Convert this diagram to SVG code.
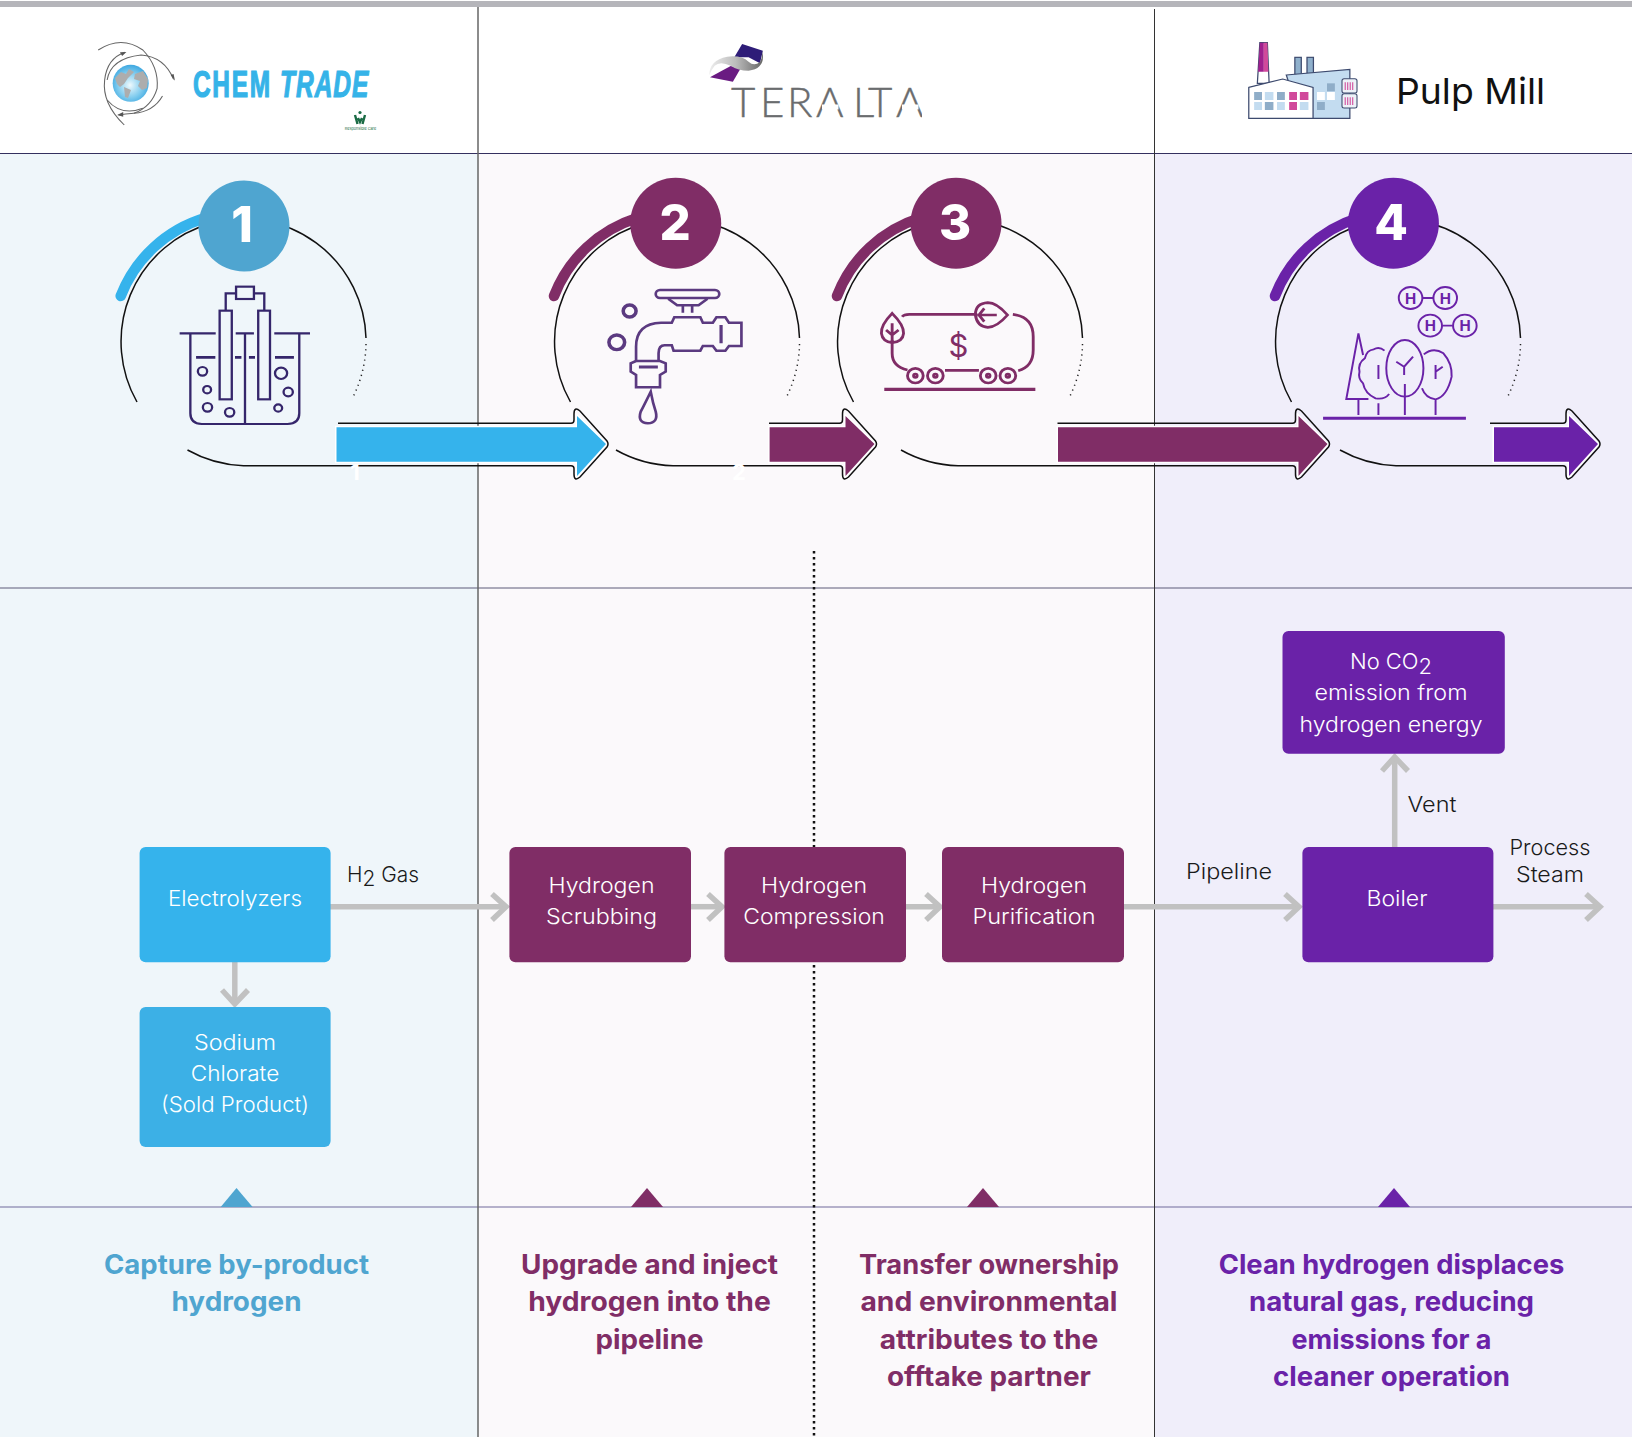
<svg xmlns="http://www.w3.org/2000/svg" width="1632" height="1437" viewBox="0 0 1632 1437">
<style>
text{font-family:Inter,"Liberation Sans",sans-serif}
.box{font-size:21.5px;fill:#fff;text-anchor:middle;font-weight:300}
.lab{font-size:21.5px;fill:#1a1a1a;font-weight:300}
.mid{text-anchor:middle}
.cap{font-size:26.5px;font-weight:700;text-anchor:middle}
.num{font-size:49px;font-weight:800;fill:#fff;text-anchor:middle}
.ring{fill:none;stroke:#111;stroke-width:1.5}
.dots{fill:none;stroke:#222;stroke-width:1.5;stroke-dasharray:1.2 4}
.thick{fill:none;stroke-width:10.5;stroke-linecap:round}
.out{fill:none;stroke:#111;stroke-width:1.5}
.conn{fill:none;stroke:#c1c1c1;stroke-width:5.5}
.ic{fill:none;stroke-width:6.5}
.brand{font-size:36px;font-weight:700;fill:#35b3e8;stroke:#35b3e8;stroke-width:1.2px;font-family:"Liberation Sans",sans-serif}
</style>
<defs>
<radialGradient id="globe" cx="0.48" cy="0.55" r="0.62"><stop offset="0" stop-color="#eef9fd"/><stop offset="0.55" stop-color="#7fcbee"/><stop offset="1" stop-color="#2a9ddc"/></radialGradient>
<linearGradient id="sw" x1="0" x2="1" y1="0" y2="0"><stop offset="0" stop-color="#eee"/><stop offset="0.5" stop-color="#bbb"/><stop offset="1" stop-color="#666"/></linearGradient>
<clipPath id="tclip"><rect x="728" y="80" width="194" height="38"/></clipPath>
</defs>
<rect width="1632" height="1437" fill="#fff"/>
<g id="bands">
<rect x="0" y="154" width="478" height="1283" fill="#eff6fa"/>
<rect x="478" y="154" width="676.500" height="1283" fill="#fbf9fb"/>
<rect x="1154.500" y="154" width="477.500" height="1283" fill="#f0eefa"/>
<rect x="0" y="1" width="1632" height="6" fill="#b5b5ba"/>
<path d="M0,153.500H1632" stroke="#34305f" stroke-width="1.200"/>
<path d="M0,588H1632" stroke="#5d5a78" stroke-width="1"/>
<path d="M0,1207H1632" stroke="#706a9c" stroke-width="1.200"/>
<path d="M478,7V1437" stroke="#666" stroke-width="1.500"/>
<path d="M1154.500,9V1437" stroke="#333" stroke-width="1"/>
<path d="M814,551V1437" stroke="#111" stroke-width="2.500" stroke-dasharray="2.500 3.500" fill="none"/>
</g>
<g id="chemtrade-logo">
<ellipse cx="130.700" cy="83.300" rx="18" ry="18.500" fill="url(#globe)"/>
<path d="M115,78 L121,72 L126,74 L129,69 L134,72 L128,78 L124,84 L120,87 L117,84 Z M124,87 L131,90 L128,98 L125,97 Z M135,74 L143,71 L148,79 L147,88 L142,90 L138,86 L140,81 L134,79 Z" fill="#adadad"/>
<g transform="scale(0.35714,0.33333)" fill="none" stroke="#666" stroke-width="3">
<path d="M275,150 Q340,105 400,150 Q445,200 440,265 Q425,320 375,340"/>
<path d="M350,157 Q300,175 293,240 Q285,310 348,375"/>
<path d="M300,240 Q310,175 395,165 Q460,170 486,238"/>
<path d="M455,288 Q430,335 375,340 Q350,342 332,345"/>
<path d="M300,300 Q340,350 400,325"/>
<path d="M354,156 L336,157 L342,168 Z M490,242 L478,225 L486,222 Z M328,345 L345,336 L345,350 Z" fill="#555" stroke="none"/>
</g>
<text class="brand" transform="translate(193,96.700) scale(0.68,1)" letter-spacing="2.500">CHEM</text>
<text class="brand" transform="translate(280,96.700) scale(0.68,1)" font-style="italic" letter-spacing="1.500">TRADE</text>
<g fill="none" stroke="#1a6b45"><circle cx="360" cy="112.500" r="1.600" fill="#1a6b45" stroke="none"/><path d="M355,115 L357.500,124 M365,115 L362.500,124 M358,118 L360,122 L362,118" stroke-width="2.400"/></g>
<text x="360.500" y="129.500" font-size="3.800" fill="#1a6b45" text-anchor="middle">Responsible Care</text>
</g>
<g id="teralta-logo">
<g transform="translate(520,0) scale(0.35714,0.33333)">
<path d="M622,132 L680,152 L672,190 L640,172 L600,172 Z" fill="#2e1c78"/>
<path d="M532,232 L596,245 L618,205 L590,198 L560,215 Z" fill="#6a1b82"/>
<path d="M530,226 Q530,180 580,170 Q620,165 640,185 Q655,200 672,186 Q680,170 678,152 Q690,205 640,212 Q610,212 590,197 Q560,182 545,197 Q535,210 530,226 Z" fill="url(#sw)"/>
</g>
<g clip-path="url(#tclip)">
<text id="teralta-word" x="731 760 787 816 853 868 896" y="117" font-size="42" font-weight="300" fill="#6a6c6e" stroke="#6a6c6e" stroke-width="0.400" style="font-family:Lato,sans-serif">TERALTA</text>
</g>
<rect x="822" y="104.500" width="16.500" height="5" fill="#fff"/>
<rect x="902" y="104.500" width="16.500" height="5" fill="#fff"/>
</g>
<g id="mill-logo">
<g transform="translate(1072,0) scale(0.35714,0.33333)" stroke="#3d4a6e" stroke-width="3.500">
<path d="M526,128 H547 L552,250 H519 Z" fill="#fff"/>
<path d="M526,128 H537 V215 H521 Z" fill="#a0208e" stroke="none"/>
<path d="M537,128 H547 L550,215 H537 Z" fill="#d1499b" stroke="none"/>
<rect x="624" y="172" width="18" height="52" fill="#8fb0cc"/>
<rect x="658" y="172" width="18" height="50" fill="#8fb0cc"/>
<path d="M600,225 L778,208 V355 H640 Z" fill="#c3dcf0"/>
<path d="M495,262 L590,237 L675,262 V355 H495 Z" fill="#fff"/>
<g stroke="none">
<rect x="510" y="276" width="22" height="24" fill="#8fadc8"/><rect x="540" y="276" width="24" height="24" fill="#c3dcf0"/><rect x="574" y="276" width="22" height="24" fill="#8fadc8"/><rect x="608" y="276" width="22" height="24" fill="#d1499b"/><rect x="638" y="276" width="24" height="24" fill="#d1499b"/>
<rect x="510" y="306" width="22" height="24" fill="#c3dcf0"/><rect x="540" y="306" width="24" height="24" fill="#8fadc8"/><rect x="574" y="306" width="22" height="24" fill="#c3dcf0"/><rect x="608" y="306" width="22" height="24" fill="#d1499b"/><rect x="638" y="306" width="24" height="24" fill="#c3dcf0"/>
<rect x="714" y="250" width="22" height="24" fill="#8fadc8"/><rect x="686" y="276" width="22" height="24" fill="#fff"/><rect x="714" y="276" width="22" height="24" fill="#fff"/><rect x="686" y="306" width="22" height="24" fill="#8fadc8"/>
</g>
<rect x="756" y="236" width="42" height="43" rx="6" fill="#edf2f8" stroke-width="3"/>
<rect x="756" y="281" width="42" height="43" rx="6" fill="#edf2f8" stroke-width="3"/>
<path d="M765,247V270M772,247V270M779,247V270M786,247V270M765,292V315M772,292V315M779,292V315M786,292V315" stroke="#d1499b" stroke-width="3"/>
</g>
<text x="1396" y="104" font-size="36" font-weight="400" fill="#111" textLength="149" lengthAdjust="spacingAndGlyphs">Pulp Mill</text>
</g>
<g id="step-1">
<path class="thick" stroke="#35b3ec" d="M120.700,296 A131,131 0 0 1 205,218"/>
<path class="ring" d="M137,402 A122.500,122.500 0 1 1 366,338"/>
<path class="dots" d="M366,344 A122.500,122.500 0 0 1 353,397"/>
<circle cx="244" cy="226" r="45.500" fill="#4fa5d0"/>
<text class="num" x="242" y="241.500">1</text>
<g transform="scale(0.35714,0.33333)" stroke="#35266b" class="ic">
<path d="M533,1000 V1240 Q533,1272 565,1272 H805 Q838,1272 838,1240 V1000"/>
<path d="M503,1000 H604 M660,1000 H711 M768,1000 H868 M686,1000 V1272 M632,932 V880 H660 M740,932 V880 H712"/>
<rect x="615" y="932" width="34" height="266"/><rect x="723" y="932" width="33" height="266"/><rect x="661" y="860" width="50" height="37"/>
<path d="M549,1072 H603 M658,1072 H676 M697,1072 H714 M770,1072 H823" stroke-width="8"/>
<circle cx="567" cy="1114" r="13"/><circle cx="580" cy="1169" r="11"/><circle cx="581" cy="1222" r="13"/><circle cx="643" cy="1237" r="13"/><circle cx="779" cy="1224" r="11"/><circle cx="787" cy="1120" r="17"/><circle cx="807" cy="1176" r="13"/>
</g>
</g>
<g id="step-2">
<path class="thick" stroke="#802d66" d="M554,296 A131,131 0 0 1 637,218"/>
<path class="ring" d="M570.500,402 A122.500,122.500 0 1 1 799.500,338"/>
<path class="dots" d="M799.500,344 A122.500,122.500 0 0 1 786.500,397"/>
<circle cx="675.700" cy="223.300" r="45.500" fill="#802d66"/>
<text class="num" x="675" y="239.500">2</text>
<g transform="translate(520,0) scale(0.35714,0.33333)" stroke="#5b3a80" class="ic" style="stroke-width:7.500">
<rect x="380" y="870" width="178" height="24" rx="12"/>
<path d="M415,896 L440,916 H500 L525,896 M456,916 V938 M482,916 V938"/>
<path d="M325,1085 V1040 Q325,970 395,968 H425 L432,952 H505 L512,968 H540 L550,952 H575 L585,968 H620 V1038 H585 L575,1052 H550 L540,1038 H512 L505,1052 H430 L425,1036 H405 Q388,1036 388,1060 V1085"/>
<path d="M325,1083 L310,1090 V1115 L325,1125 V1162 H392 V1125 L408,1115 V1090 L392,1083 Z"/>
<path d="M333,1101 H386 M563,975 V1030" stroke-width="9"/>
<circle cx="307" cy="933" r="18" stroke-width="10"/><circle cx="271" cy="1027" r="22" stroke-width="10"/>
<path d="M366,1175 Q350,1210 338,1235 Q328,1268 358,1270 Q388,1268 380,1235 Q372,1210 366,1175 Z"/>
</g>
</g>
<g id="step-3">
<path class="thick" stroke="#802d66" d="M837,296 A131,131 0 0 1 920,218"/>
<path class="ring" d="M853.500,402 A122.500,122.500 0 1 1 1082.500,338"/>
<path class="dots" d="M1082.500,344 A122.500,122.500 0 0 1 1069.500,397"/>
<circle cx="956" cy="223.300" r="45.500" fill="#802d66"/>
<text class="num" x="955" y="239.500">3</text>
<g transform="translate(520,0) scale(0.35714,0.33333)" stroke="#802d66" class="ic" style="stroke-width:8">
<path d="M1070,950 Q1075,943 1090,943 H1280 M1380,943 Q1437,950 1437,1010 V1050 Q1437,1100 1395,1112 M1190,1111 H1285 M1042,1020 V1060 Q1042,1100 1085,1110"/>
<circle cx="1107" cy="1127" r="22"/><circle cx="1163" cy="1127" r="22"/><circle cx="1311" cy="1127" r="22"/><circle cx="1366" cy="1127" r="22"/>
<circle cx="1107" cy="1127" r="5"/><circle cx="1163" cy="1127" r="5"/><circle cx="1311" cy="1127" r="5"/><circle cx="1366" cy="1127" r="5"/>
<path d="M1020,1168 H1443" stroke-width="10"/>
<path d="M1042,940 Q1010,975 1012,1000 Q1015,1025 1042,1028 Q1072,1025 1074,1000 Q1075,975 1042,940 Z M1042,970 V1028 M1025,990 L1042,1005 L1060,990"/>
<path d="M1365,945 Q1335,908 1310,908 Q1275,910 1275,945 Q1280,980 1310,982 Q1335,982 1365,945 Z M1280,945 H1335 M1300,925 L1285,945 L1300,965"/>
</g>
<text x="958.500" y="357" font-size="31" font-weight="400" fill="#802d66" text-anchor="middle">$</text>
</g>
<g id="step-4">
<path class="thick" stroke="#6a22a8" d="M1275,296 A131,131 0 0 1 1358,218"/>
<path class="ring" d="M1291.500,402 A122.500,122.500 0 1 1 1520.500,338"/>
<path class="dots" d="M1520.500,344 A122.500,122.500 0 0 1 1507.500,397"/>
<circle cx="1393.400" cy="223.300" r="45.500" fill="#6a22a8"/>
<text class="num" x="1391" y="239.500">4</text>
<g transform="translate(1072,0) scale(0.35714,0.33333)" stroke="#6a22a8" class="ic" style="stroke-width:5.500">
<circle cx="948" cy="894" r="33"/><circle cx="1045" cy="894" r="33"/><circle cx="1003" cy="977" r="33"/><circle cx="1100" cy="977" r="33"/>
<path d="M982,894 H1011 M1037,977 H1066"/>
<path d="M802,1000 L768,1197 H830 M802,1000 L815,1065 M802,1197 V1245"/>
<path d="M875,1052 Q860,1038 845,1048 Q825,1050 820,1075 Q800,1090 805,1115 Q800,1135 815,1150 Q820,1180 850,1195 Q875,1200 888,1182 M858,1095 V1137 M858,1210 V1245"/>
<ellipse cx="932" cy="1105" rx="52" ry="85"/>
<path d="M932,1152 V1245 M955,1070 L930,1100 L908,1085 M930,1100 V1125"/>
<path d="M985,1063 Q1012,1040 1040,1060 Q1065,1090 1063,1130 Q1050,1190 1018,1198 Q990,1195 980,1165 M1018,1198 V1245 M1018,1095 V1137 M1018,1115 L1038,1100"/>
<path d="M703,1255 H1103" stroke-width="9"/>
</g>
<g font-size="15" font-weight="700" fill="#6a22a8" text-anchor="middle"><text x="1410.600" y="303.500">H</text><text x="1445.300" y="303.500">H</text><text x="1430.300" y="331">H</text><text x="1465" y="331">H</text></g>
</g>
<g id="flow-arrows">
<path fill="#35b3ec" stroke="#fff" stroke-width="3" paint-order="stroke" d="M336.500,427.300H577V416L606,444L577,476V461.700H336.500Z"/>
<path class="out" d="M338,423.300H571Q574,423.300 574,420V414Q574,406 580,411L607,441Q609,444 607,447L580,477Q574,482 574,474V468.500Q574,465.700 571,465.700H243.500A122.500,122.500 0 0 1 187.500,450"/>
<path fill="#802d66" stroke="#fff" stroke-width="3" paint-order="stroke" d="M769.600,427.300H845.500V416L874.500,444L845.500,476V461.700H769.600Z"/>
<path class="out" d="M769,423.300H839.500Q842.500,423.300 842.500,420V414Q842.500,406 848.500,411L875.500,441Q877.500,444 875.500,447L848.500,477Q842.500,482 842.500,474V468.500Q842.500,465.700 839.500,465.700H673A122.500,122.500 0 0 1 616,450"/>
<path fill="#802d66" stroke="#fff" stroke-width="3" paint-order="stroke" d="M1058,427.300H1298.500V416L1327.500,444L1298.500,476V461.700H1058Z"/>
<path class="out" d="M1057.500,423.300H1292.500Q1295.500,423.300 1295.500,420V414Q1295.500,406 1301.500,411L1328.500,441Q1330.500,444 1328.500,447L1301.500,477Q1295.500,482 1295.500,474V468.500Q1295.500,465.700 1292.500,465.700H958A122.500,122.500 0 0 1 901,450"/>
<path fill="#6a22a8" stroke="#fff" stroke-width="3" paint-order="stroke" d="M1494,427.300H1569V416L1598,444L1569,476V461.700H1494Z"/>
<path class="out" d="M1490,423.300H1563Q1566,423.300 1566,420V414Q1566,406 1572,411L1599,441Q1601,444 1599,447L1572,477Q1566,482 1566,474V468.500Q1566,465.700 1563,465.700H1396A122.500,122.500 0 0 1 1340,450"/>
<text x="355" y="480" font-size="22" font-weight="700" fill="#fff" text-anchor="middle">1</text>
<text x="739" y="480" font-size="22" font-weight="700" fill="#fff" text-anchor="middle">2</text>
</g>
<g id="connectors" class="conn">
<path d="M330,906.700H506"/><path d="M492,894L506,906.700L492,920"/>
<path d="M691,906.700H722"/><path d="M708,894L722,906.700L708,920"/>
<path d="M906,906.700H940"/><path d="M926,894L940,906.700L926,920"/>
<path d="M1124,906.700H1299"/><path d="M1285,894L1299,906.700L1285,920"/>
<path d="M1493,906.700H1600"/><path d="M1586,894L1600,906.700L1586,920"/>
<path d="M1394.700,847V757"/><path d="M1382,771L1394.700,757L1408,771"/>
<path d="M234.800,962V1004"/><path d="M222,990L234.800,1004L248,990"/>
</g>
<g id="electrolyzers"><rect x="139.600" y="847" width="191" height="115.300" rx="6" fill="#35b3ec"/><text class="box" x="235" y="905.500" textLength="134" lengthAdjust="spacingAndGlyphs">Electrolyzers</text></g>
<g id="sodium-chlorate"><rect x="139.600" y="1007" width="191" height="140" rx="6" fill="#3cb0e6"/><text class="box" x="235" y="1050" textLength="82" lengthAdjust="spacingAndGlyphs">Sodium</text><text class="box" x="235" y="1081" textLength="88.500" lengthAdjust="spacingAndGlyphs">Chlorate</text><text class="box" x="235" y="1111.700" textLength="148" lengthAdjust="spacingAndGlyphs">(Sold Product)</text></g>
<g id="scrubbing"><rect x="509.400" y="847" width="181.600" height="115.300" rx="6" fill="#802d66"/><text class="box" x="601.500" y="892.700" textLength="106" lengthAdjust="spacingAndGlyphs">Hydrogen</text><text class="box" x="601.500" y="923.700" textLength="111" lengthAdjust="spacingAndGlyphs">Scrubbing</text></g>
<g id="compression"><rect x="724.400" y="847" width="181.600" height="115.300" rx="6" fill="#802d66"/><text class="box" x="814" y="892.700" textLength="106" lengthAdjust="spacingAndGlyphs">Hydrogen</text><text class="box" x="814" y="923.700" textLength="141.500" lengthAdjust="spacingAndGlyphs">Compression</text></g>
<g id="purification"><rect x="942" y="847" width="182" height="115.300" rx="6" fill="#802d66"/><text class="box" x="1034" y="892.700" textLength="106" lengthAdjust="spacingAndGlyphs">Hydrogen</text><text class="box" x="1034" y="923.700" textLength="123" lengthAdjust="spacingAndGlyphs">Purification</text></g>
<g id="boiler"><rect x="1302.400" y="847" width="191" height="115.300" rx="6" fill="#6a22a8"/><text class="box" x="1397" y="906" textLength="61" lengthAdjust="spacingAndGlyphs">Boiler</text></g>
<g id="no-co2"><rect x="1282.500" y="631" width="222.300" height="122.800" rx="6" fill="#6a22a8"/><text class="box" x="1391" y="669" textLength="82" lengthAdjust="spacingAndGlyphs">No CO<tspan dy="4.500">2</tspan></text><text class="box" x="1391" y="700" textLength="153" lengthAdjust="spacingAndGlyphs">emission from</text><text class="box" x="1391" y="731.500" textLength="183" lengthAdjust="spacingAndGlyphs">hydrogen energy</text></g>
<g id="edge-labels">
<text class="lab" x="347" y="881.700" textLength="72" lengthAdjust="spacingAndGlyphs">H<tspan dy="4.500">2</tspan><tspan dy="-4.500"> Gas</tspan></text>
<text class="lab mid" x="1229" y="878.600" textLength="86" lengthAdjust="spacingAndGlyphs">Pipeline</text>
<text class="lab" x="1407.500" y="812" textLength="49" lengthAdjust="spacingAndGlyphs">Vent</text>
<text class="lab mid" x="1550" y="855" textLength="81" lengthAdjust="spacingAndGlyphs">Process</text>
<text class="lab mid" x="1550" y="882" textLength="68" lengthAdjust="spacingAndGlyphs">Steam</text>
</g>
<g id="caption-1"><path d="M220.700,1207L236.500,1188L252.600,1207Z" fill="#4fa5d0"/><g class="cap" fill="#4fa5d0"><text x="236.500" y="1274" textLength="265" lengthAdjust="spacingAndGlyphs">Capture by-product</text><text x="236.500" y="1311" textLength="130" lengthAdjust="spacingAndGlyphs">hydrogen</text></g></g>
<g id="caption-2"><path d="M631,1207L647,1188L663,1207Z" fill="#802d66"/><g class="cap" fill="#802d66"><text x="649.500" y="1274" textLength="257" lengthAdjust="spacingAndGlyphs">Upgrade and inject</text><text x="649.500" y="1311" textLength="242.500" lengthAdjust="spacingAndGlyphs">hydrogen into the</text><text x="649.500" y="1349" textLength="108" lengthAdjust="spacingAndGlyphs">pipeline</text></g></g>
<g id="caption-3"><path d="M967,1207L983,1188L999,1207Z" fill="#802d66"/><g class="cap" fill="#802d66"><text x="989" y="1274" textLength="260" lengthAdjust="spacingAndGlyphs">Transfer ownership</text><text x="989" y="1311" textLength="257" lengthAdjust="spacingAndGlyphs">and environmental</text><text x="989" y="1349" textLength="218.500" lengthAdjust="spacingAndGlyphs">attributes to the</text><text x="989" y="1386" textLength="204" lengthAdjust="spacingAndGlyphs">offtake partner</text></g></g>
<g id="caption-4"><path d="M1378,1207L1394,1188L1410,1207Z" fill="#6a22a8"/><g class="cap" fill="#6a22a8"><text x="1391.500" y="1274" textLength="345.500" lengthAdjust="spacingAndGlyphs">Clean hydrogen displaces</text><text x="1391.500" y="1311" textLength="285" lengthAdjust="spacingAndGlyphs">natural gas, reducing</text><text x="1391.500" y="1349" textLength="200" lengthAdjust="spacingAndGlyphs">emissions for a</text><text x="1391.500" y="1386" textLength="237" lengthAdjust="spacingAndGlyphs">cleaner operation</text></g></g>
</svg>
